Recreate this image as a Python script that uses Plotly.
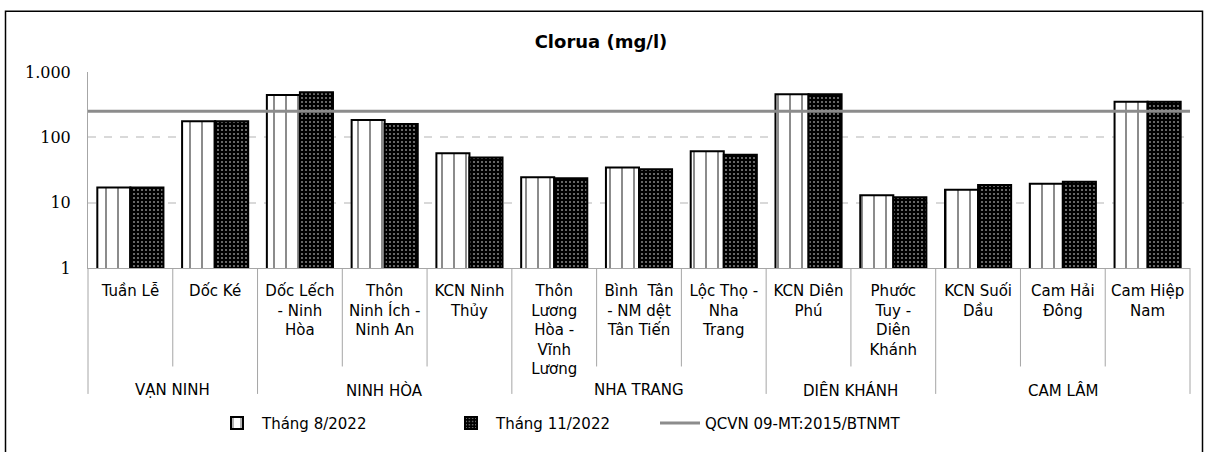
import plotly.graph_objects as go

# Monitoring sites grouped by district
districts = ["VẠN NINH", "VẠN NINH",
             "NINH HÒA", "NINH HÒA", "NINH HÒA",
             "NHA TRANG", "NHA TRANG", "NHA TRANG",
             "DIÊN KHÁNH", "DIÊN KHÁNH",
             "CAM LÂM", "CAM LÂM", "CAM LÂM"]
sites = ["Tuần Lễ", "Dốc Ké", "Dốc Lếch<br>- Ninh<br>Hòa",
         "Thôn<br>Ninh Ích -<br>Ninh An", "KCN Ninh<br>Thủy",
         "Thôn<br>Lương<br>Hòa -<br>Vĩnh<br>Lương",
         "Bình  Tân<br>- NM dệt<br>Tân Tiến", "Lộc Thọ -<br>Nha<br>Trang",
         "KCN Diên<br>Phú", "Phước<br>Tuy -<br>Diên<br>Khánh",
         "KCN Suối<br>Dầu", "Cam Hải<br>Đông", "Cam Hiệp<br>Nam"]

# Chloride concentrations (mg/l)
aug_2022 = [17, 177, 445, 185, 57, 24.4, 34.5, 61, 455, 13.0, 15.7, 19.5, 349]
nov_2022 = [17, 177, 488, 160, 49, 23.6, 32.6, 54, 458, 12.1, 18.7, 20.9, 352]

# QCVN 09-MT:2015/BTNMT limit for chloride
qcvn_limit = 250

W, H = 1206, 452
ML, MR, MT, MB = 88, 16, 71.5, 180.5
PW, PH = W - ML - MR, H - MT - MB

def px_x(x):
    return (x - ML) / PW

def px_y(y):
    return (H - MB - y) / PH

TEXT = "#000000"
AXIS_GREY = "#a6a6a6"
label_font = dict(family="DejaVu Sans", size=15, color=TEXT)
edge = dict(color="#000000", width=2)

fig = go.Figure()
fig.add_trace(go.Bar(
    name="Tháng 8/2022", x=sites, y=aug_2022, legend="legend",
    marker=dict(color="#ffffff", line=edge,
                pattern=dict(shape="|", fgcolor="#000000", bgcolor="#ffffff",
                             size=12, solidity=0.15)),
))
fig.add_trace(go.Bar(
    name="Tháng 11/2022", x=sites, y=nov_2022, legend="legend2",
    marker=dict(color="#000000", line=edge,
                pattern=dict(shape=".", fgcolor="#ffffff", bgcolor="#000000",
                             size=4, solidity=0.22)),
))
# Limit line spans the full plot width on an overlaid linear axis
fig.add_trace(go.Scatter(
    name="QCVN 09-MT:2015/BTNMT", x=[0, 1], y=[qcvn_limit, qcvn_limit],
    xaxis="x2", mode="lines", line=dict(color="#8c8c8c", width=3),
    legend="legend3",
))

# Separators below the axis: short ones between sites, long ones between districts
n = len(sites)
shapes = []
for i in range(0, n + 1):
    group_edge = i == 0 or i == n or districts[i] != districts[i - 1]
    shapes.append(dict(type="line", xref="paper", yref="paper",
                       x0=i / n, x1=i / n, y0=0,
                       y1=px_y(400) if group_edge else px_y(372),
                       line=dict(color=AXIS_GREY, width=1)))
# Outer chart frame
shapes.append(dict(type="path", xref="paper", yref="paper",
                   path=f"M{px_x(5.5)},{px_y(470)} L{px_x(5.5)},{px_y(9.5)} "
                        f"L{px_x(1202.5)},{px_y(9.5)} L{px_x(1202.5)},{px_y(470)}",
                   line=dict(color="#000000", width=1.5)))

# District names centred under their sites
annotations = []
start = 0
for i in range(1, n + 1):
    if i == n or districts[i] != districts[start]:
        annotations.append(dict(text=districts[start], xref="paper", yref="paper",
                                x=(start + i) / 2 / n, y=px_y(396),
                                xanchor="center", yanchor="middle",
                                showarrow=False, font=label_font))
        start = i

legend_common = dict(orientation="h", yanchor="middle", xanchor="left",
                     y=px_y(430), bgcolor="rgba(0,0,0,0)",
                     font=dict(family="DejaVu Sans", size=15, color=TEXT),
                     itemwidth=40)

fig.update_layout(
    width=W, height=H,
    margin=dict(l=ML, r=MR, t=MT, b=MB),
    paper_bgcolor="#ffffff", plot_bgcolor="#ffffff",
    barmode="group", bargap=0.22, bargroupgap=0,
    showlegend=True,
    title=dict(text="<b>Clorua (mg/l)</b>", x=601 / W, xanchor="center",
               y=1 - 42 / H, yanchor="middle",
               font=dict(family="DejaVu Sans", size=18, color=TEXT)),
    xaxis=dict(type="category", showline=True, linecolor=AXIS_GREY,
               linewidth=1, ticks="", showgrid=False,
               ticklabelstandoff=9, tickfont=label_font),
    xaxis2=dict(overlaying="x", range=[0, 1], visible=False),
    yaxis=dict(type="log", range=[0, 3], tickvals=[1, 10, 100, 1000],
               ticktext=["1", "10", "100", "1.000"],
               showline=True, linecolor=AXIS_GREY, linewidth=1,
               showgrid=True, gridcolor="#d9d9d9", gridwidth=1.5,
               griddash="8px,8px", zeroline=False, ticks="",
               ticklabelstandoff=13,
               tickfont=dict(family="DejaVu Serif", size=16, color=TEXT)),
    legend=dict(legend_common, x=px_x(212)),
    legend2=dict(legend_common, x=px_x(446)),
    legend3=dict(legend_common, x=px_x(655)),
    shapes=shapes,
    annotations=annotations,
)

fig.write_html("out.html")
